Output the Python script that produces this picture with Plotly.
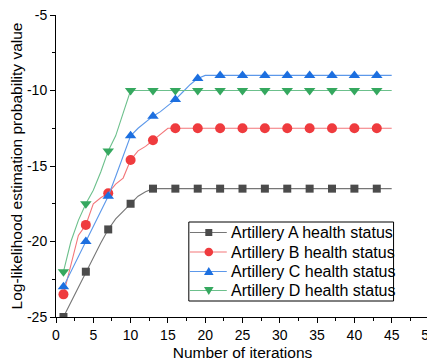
import plotly.graph_objects as go

iterations = list(range(1, 46))

artillery_a = [-25.0, -24.0, -23.0, -22.0, -21.1, -20.1, -19.2, -18.5, -18.0, -17.5,
               -17.0, -16.7, -16.5, -16.5, -16.5, -16.5, -16.5, -16.5, -16.5, -16.5,
               -16.5, -16.5, -16.5, -16.5, -16.5, -16.5, -16.5, -16.5, -16.5, -16.5,
               -16.5, -16.5, -16.5, -16.5, -16.5, -16.5, -16.5, -16.5, -16.5, -16.5,
               -16.5, -16.5, -16.5, -16.5, -16.5]
artillery_b = [-23.5, -21.5, -19.6, -18.9, -17.5, -17.1, -16.8, -16.2, -15.8, -14.6,
               -14.0, -13.7, -13.3, -12.9, -12.5, -12.5, -12.5, -12.5, -12.5, -12.5,
               -12.5, -12.5, -12.5, -12.5, -12.5, -12.5, -12.5, -12.5, -12.5, -12.5,
               -12.5, -12.5, -12.5, -12.5, -12.5, -12.5, -12.5, -12.5, -12.5, -12.5,
               -12.5, -12.5, -12.5, -12.5, -12.5]
artillery_c = [-23.0, -22.0, -21.0, -20.0, -19.0, -18.0, -17.0, -15.7, -14.3, -13.0,
               -12.5, -12.1, -11.7, -11.4, -11.0, -10.6, -10.1, -9.6, -9.2, -9.0,
               -9.0, -9.0, -9.0, -9.0, -9.0, -9.0, -9.0, -9.0, -9.0, -9.0,
               -9.0, -9.0, -9.0, -9.0, -9.0, -9.0, -9.0, -9.0, -9.0, -9.0,
               -9.0, -9.0, -9.0, -9.0, -9.0]
artillery_d = [-22.0, -20.0, -18.6, -17.5, -16.6, -15.4, -14.0, -13.0, -11.5, -10.0,
               -10.0, -10.0, -10.0, -10.0, -10.0, -10.0, -10.0, -10.0, -10.0, -10.0,
               -10.0, -10.0, -10.0, -10.0, -10.0, -10.0, -10.0, -10.0, -10.0, -10.0,
               -10.0, -10.0, -10.0, -10.0, -10.0, -10.0, -10.0, -10.0, -10.0, -10.0,
               -10.0, -10.0, -10.0, -10.0, -10.0]

series_names = ["Artillery A health status", "Artillery B health status",
                "Artillery C health status", "Artillery D health status"]
x_ticks = [0, 5, 10, 15, 20, 25, 30, 35, 40, 45, 50]
y_ticks = [-25, -20, -15, -10, -5]
y_tick_labels = ["-25", "-20", "-15", "-10", "-5"]

marker_step = 3
last_marker = 43
styles = [
    ("#4b4b4b", "#767676", "square", 8),
    ("#ef3b3e", "#f37679", "circle", 10),
    ("#1c6fe0", "#5c98ea", "triangle-up", 10),
    ("#35a85f", "#6cc08c", "triangle-down", 10),
]

FONT = "Arial, Liberation Sans, sans-serif"

# page body has an 8px default margin; figure is sized to fill the 435x364 window
W, H = 427, 356
ML, MR, MT, MB = 48, 5.5, 7, 47
PW, PH = W - ML - MR, H - MT - MB


def px_to_paper(px, py):
    """window pixel -> paper coords of the plot area (body offset 8px)."""
    return (px - 8 - ML) / PW, 1 - (py - 8 - MT) / PH


fig = go.Figure()
for name, vals, (mc, lc, sym, sz) in zip(series_names,
                                         [artillery_a, artillery_b, artillery_c, artillery_d],
                                         styles):
    mx = [x for x in iterations if (x - 1) % marker_step == 0 and x <= last_marker]
    my = [v for x, v in zip(iterations, vals) if x in mx]
    fig.add_trace(go.Scatter(x=iterations, y=vals, mode="lines",
                             line=dict(color=lc, width=1.1), showlegend=False,
                             hoverinfo="skip"))
    fig.add_trace(go.Scatter(x=mx, y=my, mode="markers", name=name,
                             marker=dict(color=mc, symbol=sym, size=sz, line=dict(width=0)),
                             showlegend=False))

# ---- legend box drawn as layout shapes/annotations (compact row spacing) ----
shapes = []
annotations = []
bx0, by0 = px_to_paper(189, 222)
bx1, by1 = px_to_paper(394, 301)
shapes.append(dict(type="rect", xref="paper", yref="paper", x0=bx0, x1=bx1, y0=by1, y1=by0,
                   line=dict(color="black", width=1), fillcolor="white", layer="above"))
row_y = [232.5, 252, 271.5, 290.5]
# pixel-sized symbol paths (y axis points up in pixel sizemode)
marker_paths = {
    "square": "M-3.5,-3.5 L3.5,-3.5 L3.5,3.5 L-3.5,3.5 Z",
    "triangle-up": "M-4.8,-3.6 L4.8,-3.6 L0,4.6 Z",
    "triangle-down": "M-4.8,3.6 L4.8,3.6 L0,-4.6 Z",
}
for name, (mc, lc, sym, sz), ry in zip(series_names, styles, row_y):
    lx0, ly = px_to_paper(190, ry)
    lx1, _ = px_to_paper(227, ry)
    cx, _ = px_to_paper(209, ry)
    tx, _ = px_to_paper(229.5, ry)
    shapes.append(dict(type="line", xref="paper", yref="paper", x0=lx0, x1=lx1, y0=ly, y1=ly,
                       line=dict(color=lc, width=1.1), layer="above"))
    if sym == "circle":
        shapes.append(dict(type="circle", xref="paper", yref="paper",
                           xsizemode="pixel", ysizemode="pixel", xanchor=cx, yanchor=ly,
                           x0=-4.3, x1=4.3, y0=-4.3, y1=4.3,
                           fillcolor=mc, line=dict(width=0), layer="above"))
    else:
        shapes.append(dict(type="path", xref="paper", yref="paper",
                           xsizemode="pixel", ysizemode="pixel", xanchor=cx, yanchor=ly,
                           path=marker_paths[sym], fillcolor=mc, line=dict(width=0),
                           layer="above"))
    annotations.append(dict(text=name, xref="paper", yref="paper", x=tx, y=ly,
                            xanchor="left", yanchor="middle", showarrow=False,
                            font=dict(size=16, family=FONT, color="black")))

fig.update_layout(
    width=W, height=H,
    margin=dict(l=ML, r=MR, t=MT, b=MB),
    paper_bgcolor="white", plot_bgcolor="white",
    font=dict(family=FONT, size=14, color="black"),
    showlegend=False,
    shapes=shapes, annotations=annotations,
)
fig.update_xaxes(range=[0, 50], tickvals=x_ticks, ticks="outside", ticklen=5,
                 tickwidth=1, tickcolor="black", showline=True, linecolor="black",
                 linewidth=1, showgrid=False, zeroline=False, automargin=False,
                 ticklabeloverflow="allow",
                 minor=dict(dtick=2.5, ticks="outside", ticklen=3, tickcolor="black"),
                 title=dict(text="Number of iterations", font=dict(size=15.5), standoff=5),
                 tickfont=dict(size=14))
fig.update_yaxes(range=[-25, -5], tickvals=y_ticks, ticktext=y_tick_labels,
                 ticks="outside", ticklen=5, tickwidth=1, tickcolor="black",
                 showline=True, linecolor="black", linewidth=1, showgrid=False,
                 zeroline=False, automargin=False, ticklabeloverflow="allow",
                 minor=dict(tickvals=[-22.5, -17.5, -12.5, -7.5], ticks="outside",
                            ticklen=3, tickcolor="black"),
                 title=dict(text="Log-likelihood estimation probability value",
                            font=dict(size=15.5), standoff=4),
                 tickfont=dict(size=14))

fig.write_html("out.html")
